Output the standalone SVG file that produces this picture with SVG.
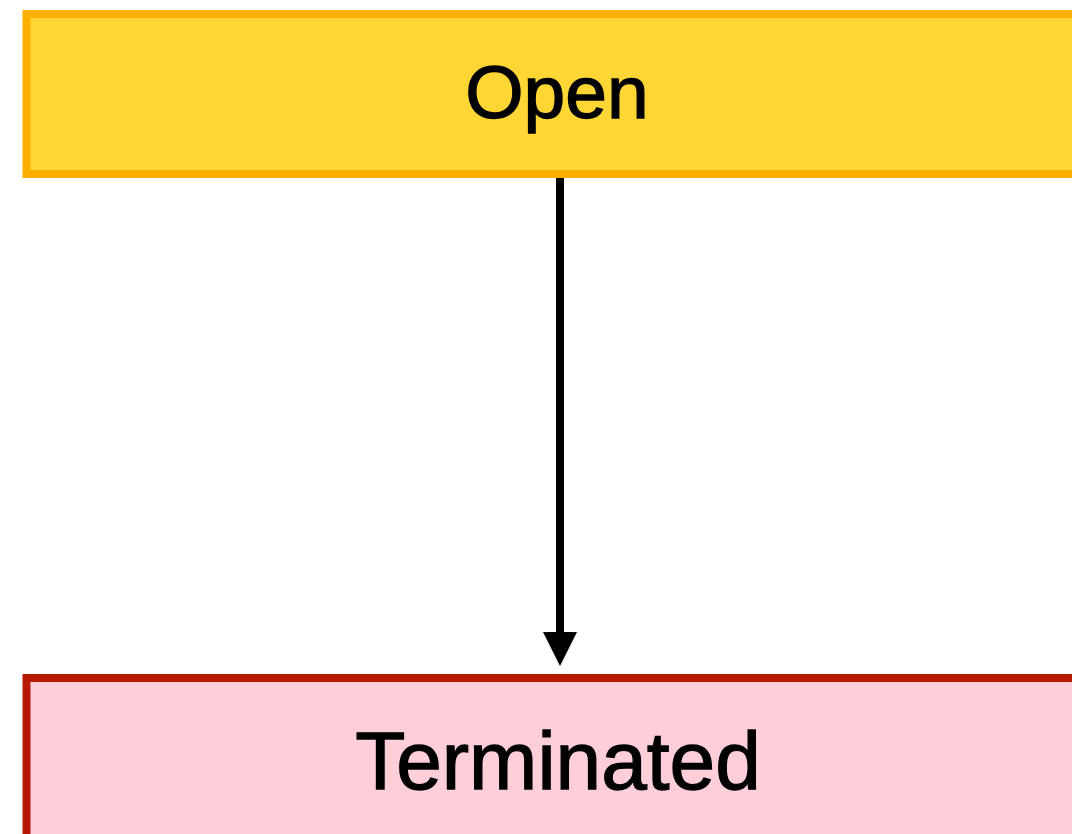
<svg xmlns="http://www.w3.org/2000/svg" width="1072" height="834" viewBox="0 0 1072 834">
<style>
.lbl{font-family:"Liberation Sans",Arial,sans-serif;fill:#000;stroke:#000;stroke-width:1.3;text-anchor:middle}
</style>
<rect width="1072" height="834" fill="#fff"/>
<g id="node-open">
<rect x="26.5" y="14" width="1100" height="160" fill="#FFD633" stroke="#FFAF00" stroke-width="8"/>
<text class="lbl" x="557" y="118" font-size="75">Open</text>
</g>
<g id="node-terminated">
<rect x="26.5" y="678" width="1100" height="200" fill="#FFCFD9" stroke="#B51A00" stroke-width="8"/>
<text class="lbl" x="558" y="789" font-size="82">Terminated</text>
</g>
<g id="connectors">
<line x1="560" y1="178" x2="560" y2="634" stroke="#000" stroke-width="8"/>
<polygon points="543,632 577,632 560,666" fill="#000"/>
</g>
</svg>
